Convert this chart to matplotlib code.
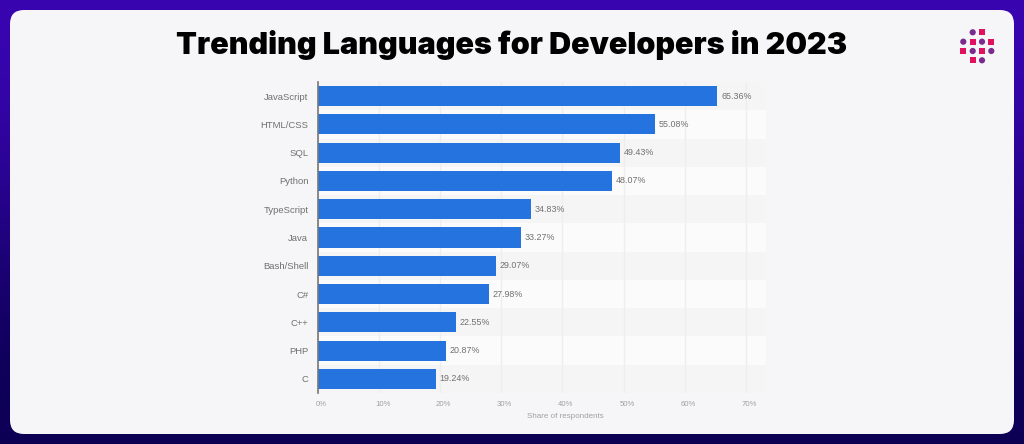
"""Trending languages bar chart on a gradient card."""

import matplotlib
matplotlib.use("Agg")
import matplotlib.pyplot as plt
import matplotlib.transforms as mtrans
from matplotlib.patches import Circle, FancyBboxPatch, Rectangle
import numpy as np

W, H = 1024, 444

languages = ["JavaScript", "HTML/CSS", "SQL", "Python", "TypeScript", "Java",
             "Bash/Shell", "C#", "C++", "PHP", "C"]
shares = [65.36, 55.08, 49.43, 48.07, 34.83, 33.27, 29.07, 27.98, 22.55, 20.87, 19.24]
x_ticks = [0, 10, 20, 30, 40, 50, 60, 70]

BAR = "#2473df"
CARD = "#f6f6f8"

plt.rcParams["font.family"] = ["Liberation Sans", "DejaVu Sans"]

fig = plt.figure(figsize=(W / 100, H / 100), dpi=100)

# background + card, in pixel coordinates (y down)
bg = fig.add_axes([0, 0, 1, 1])
bg.set_xlim(0, W)
bg.set_ylim(H, 0)
bg.axis("off")
grad = np.array([[0.0], [1.0]])
cmap = matplotlib.colors.LinearSegmentedColormap.from_list("bg", ["#3a05b4", "#0b0052"])
bg.imshow(grad, extent=(0, W, H, 0), aspect="auto", cmap=cmap, interpolation="bicubic")
bg.add_patch(FancyBboxPatch((24, 24), W - 48, H - 48, boxstyle="round,pad=14,rounding_size=14",
                            fc=CARD, ec="none"))
bg.text(512, 44.5, "Trending Languages for Developers in 2023", ha="center", va="center",
        fontsize=22, fontweight="black", family="Inter", color="black")

# logo
PINK, PURPLE = "#e0115f", "#7b2a8e"
logo_rows = [(32.3, [(972.7, "o"), (982, "s")]),
             (41.7, [(963.3, "o"), (972.7, "s"), (982, "o"), (991.3, "s")]),
             (51, [(963.3, "s"), (972.7, "o"), (982, "s"), (991.3, "o")]),
             (60.3, [(972.7, "s"), (982, "o")])]
for y, cells in logo_rows:
    for x, kind in cells:
        if kind == "o":
            bg.add_patch(Circle((x, y), 3.1, fc=PURPLE, ec="none"))
        else:
            bg.add_patch(Rectangle((x - 3, y - 3), 6, 6, fc=PINK, ec="none"))

# chart
left, right, top, bottom = 318, 766, 82, 393
ax = fig.add_axes([left / W, 1 - bottom / H, (right - left) / W, (bottom - top) / H])
ax.patch.set_alpha(0)
ypos = np.arange(len(languages))
ax.set_xlim(0, (right - left) / 6.11)
ax.set_ylim(len(languages) - 0.5, -0.5)

for i in ypos:
    ax.axhspan(i - 0.5, i + 0.5, color="#fbfbfc" if i % 2 else "#f5f5f6", lw=0, zorder=0)
ax.set_axisbelow(True)
ax.xaxis.grid(True, color="#eeeeee", lw=1)

bars = ax.barh(ypos, shares, height=0.71, color=BAR, zorder=3)
ax.bar_label(bars, labels=[f"{s:.2f}%" for s in shares], padding=2.7, fontsize=6.4, color="#707070")

for s in ["top", "right", "bottom"]:
    ax.spines[s].set_visible(False)
ax.spines["left"].set_color("#777777")
ax.spines["left"].set_linewidth(1.2)
ax.spines["left"].set_zorder(4)

ax.set_yticks(ypos, languages)
ax.tick_params(axis="y", length=0, pad=7, labelsize=6.8, labelcolor="#707070")
ax.set_xticks(x_ticks, [f"{t}%" for t in x_ticks])
ax.tick_params(axis="x", length=0, pad=5.5, labelsize=5.6, labelcolor="#a0a0a0")
shift = mtrans.ScaledTranslation(3.5 / 100, 0, fig.dpi_scale_trans)
for lab in ax.get_xticklabels():
    lab.set_transform(lab.get_transform() + shift)

bg.text(565.7, 416, "Share of respondents", ha="center", va="center", fontsize=5.8, color="#a0a0a0")

fig.savefig("out.png", dpi=100)
